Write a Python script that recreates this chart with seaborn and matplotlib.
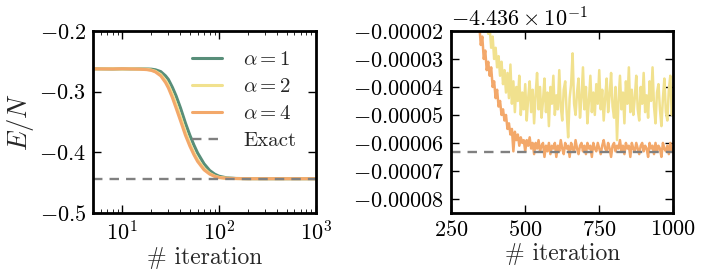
import numpy as np
import pandas as pd
import matplotlib
matplotlib.use("Agg")
import matplotlib.pyplot as plt
import matplotlib.ticker as mticker
import seaborn as sns

# datos: panel izquierdo (curvas suaves, eje log)
iters_left = [1, 3, 5, 8, 10, 12, 15, 18, 20, 22, 25, 28, 30, 33, 36, 40, 45, 50,
              55, 60, 70, 80, 90, 100, 120, 150, 200, 300, 500, 1000]
e_alpha1 = [-0.2624, -0.2626, -0.2623, -0.2627, -0.2624, -0.2626, -0.2625, -0.2627,
            -0.2630, -0.2640, -0.2670, -0.2740, -0.2800, -0.2930, -0.3070, -0.3270,
            -0.3520, -0.3720, -0.3880, -0.4010, -0.4190, -0.4300, -0.4360, -0.4395,
            -0.4422, -0.4432, -0.4435, -0.4436, -0.4436, -0.4436]
e_alpha2 = [-0.2625, -0.2623, -0.2626, -0.2624, -0.2627, -0.2625, -0.2628, -0.2632,
            -0.2645, -0.2665, -0.2720, -0.2820, -0.2900, -0.3050, -0.3210, -0.3420,
            -0.3670, -0.3860, -0.4010, -0.4120, -0.4270, -0.4350, -0.4392, -0.4414,
            -0.4428, -0.4434, -0.4436, -0.4436, -0.4436, -0.4436]
e_alpha4 = [-0.2626, -0.2624, -0.2625, -0.2627, -0.2623, -0.2626, -0.2630, -0.2638,
            -0.2650, -0.2675, -0.2740, -0.2850, -0.2940, -0.3100, -0.3270, -0.3480,
            -0.3720, -0.3900, -0.4040, -0.4150, -0.4290, -0.4360, -0.4398, -0.4418,
            -0.4430, -0.4434, -0.4436, -0.4436, -0.4436, -0.4436]

exact_energy = -0.4436633
offset = -0.4436

# panel derecho: desviaciones respecto a -0.4436, en unidades de 1e-5
right_start, right_step = 340, 5
dev_alpha2 = [
    -0.2, -0.4, -0.6, -0.9, -1.1, -1.4, -1.7, -2.1, -1.9, -2.6, -2.2, -3.0, -2.6, -3.3,
    -2.9, -3.6, -3.1, -3.9, -3.4, -4.2, -3.5, -4.4, -3.2, -4.6, -3.8, -4.9, -4.0, -4.5,
    -3.6, -5.0, -4.2, -4.8, -3.9, -5.2, -4.4, -3.8, -4.9, -4.1, -5.3, -4.3, -3.5, -4.8,
    -4.0, -5.1, -4.5, -3.7, -4.9, -4.2, -5.4, -4.0, -4.6, -3.6, -5.0, -4.3, -4.8, -3.4,
    -4.7, -5.2, -4.1, -3.8, -4.9, -5.8, -4.4, -3.9, -2.8, -4.6, -5.0, -4.2, -3.7, -5.1,
    -4.4, -3.3, -4.8, -4.0, -5.3, -4.5, -3.6, -4.9, -4.2, -5.0, -3.9, -4.6, -3.4, -4.8,
    -4.1, -5.2, -4.4, -3.7, -4.9, -4.3, -3.5, -4.7, -5.1, -4.0, -5.9, -4.5, -3.6, -4.8,
    -4.2, -5.3, -3.8, -4.6, -3.3, -4.9, -4.1, -5.0, -4.4, -3.6, -4.8, -5.2, -4.0, -4.6,
    -3.5, -4.9, -4.3, -5.1, -3.8, -4.5, -3.3, -4.7, -5.3, -4.2, -3.9, -4.8, -5.4, -4.4,
    -3.7, -4.9, -5.2, -4.1, -3.6, -5.0, -4.3]
dev_alpha4 = [
    -1.2, -1.8, -2.5, -2.2, -3.0, -2.7, -3.4, -3.1, -3.6, -3.3, -4.0, -3.8, -4.4, -4.1,
    -4.7, -4.5, -5.0, -4.8, -5.2, -5.0, -5.5, -5.3, -5.7, -5.5, -6.3, -5.6, -5.9, -5.7,
    -6.1, -5.8, -6.0, -5.9, -6.3, -5.9, -6.1, -5.8, -6.2, -6.0, -6.4, -6.0, -6.2, -5.9,
    -6.3, -6.1, -6.0, -6.5, -6.1, -6.3, -6.0, -6.4, -6.1, -6.2, -6.0, -6.5, -6.1, -6.3,
    -5.9, -6.2, -6.4, -6.0, -6.2, -6.1, -6.5, -6.0, -6.2, -6.3, -5.9, -6.2, -6.4, -6.1,
    -6.0, -6.3, -6.1, -6.4, -6.0, -6.2, -6.1, -6.5, -6.0, -6.2, -6.3, -6.0, -6.2, -6.4,
    -6.1, -5.9, -6.2, -6.3, -6.0, -6.2, -6.5, -6.1, -6.0, -6.3, -6.1, -6.2, -5.9, -6.3,
    -6.1, -6.4, -6.0, -6.2, -6.1, -6.5, -6.0, -6.2, -6.3, -6.0, -6.2, -6.4, -6.1, -6.0,
    -6.3, -6.1, -6.2, -6.5, -6.0, -6.2, -6.1, -6.4, -6.0, -6.3, -6.1, -6.2, -6.5, -6.0,
    -6.2, -6.3, -6.1, -6.4, -6.0, -6.3, -6.2]

labels = [r"$\alpha = 1$", r"$\alpha = 2$", r"$\alpha = 4$"]
colors = ["#588e79", "#f1e18e", "#f3a86a"]

# estilo
sns.set_style("ticks")
plt.rcParams.update({
    "font.family": "serif",
    "font.serif": ["cmr10"],
    "mathtext.fontset": "cm",
    "axes.formatter.use_mathtext": True,
    "axes.unicode_minus": True,
    "font.size": 16,
    "axes.labelsize": 16,
    "axes.linewidth": 2.0,
    "axes.edgecolor": "black",
    "xtick.direction": "in",
    "ytick.direction": "in",
    "xtick.top": True,
    "ytick.right": True,
    "xtick.major.size": 6,
    "ytick.major.size": 6,
    "xtick.minor.size": 3,
    "ytick.minor.size": 3,
    "xtick.major.width": 1.0,
    "ytick.major.width": 1.0,
    "xtick.major.pad": 5,
    "ytick.major.pad": 5,
    "xtick.color": "black",
    "ytick.color": "black",
})

fig = plt.figure(figsize=(7.05, 2.74), dpi=100)
ax1 = fig.add_axes([0.132, 0.223, 0.316, 0.664])
ax2 = fig.add_axes([0.640, 0.223, 0.315, 0.664])

# panel izquierdo
left_df = pd.DataFrame({"iteration": iters_left, "a1": e_alpha1, "a2": e_alpha2, "a4": e_alpha4})
for col, lab, c in zip(["a1", "a2", "a4"], labels, colors):
    sns.lineplot(data=left_df, x="iteration", y=col, ax=ax1, color=c, lw=2.2,
                 label=lab, estimator=None, sort=False)
ax1.axhline(exact_energy, color="#808080", ls=(0, (4, 3)), lw=1.7, label="Exact")
ax1.set_xscale("log")
ax1.set_xlim(5, 1000)
ax1.set_ylim(-0.5, -0.2)
ax1.yaxis.set_major_locator(mticker.MultipleLocator(0.1))
ax1.set_xlabel("# iteration", fontsize=17, labelpad=2)
ax1.set_ylabel(r"$E/N$", fontsize=19, labelpad=2)
ax1.legend(loc="upper right", frameon=False, handlelength=1.45, handletextpad=1.0,
           labelspacing=0.4, borderaxespad=0.55, fontsize=15)

# panel derecho
n2 = len(dev_alpha2)
n4 = len(dev_alpha4)
right_df2 = pd.DataFrame({"iteration": np.arange(right_start, right_start + right_step * n2, right_step),
                          "E": offset + np.array(dev_alpha2) * 1e-5})
right_df4 = pd.DataFrame({"iteration": np.arange(right_start, right_start + right_step * n4, right_step),
                          "E": offset + np.array(dev_alpha4) * 1e-5})
sns.lineplot(data=right_df2, x="iteration", y="E", ax=ax2, color=colors[1], lw=1.8,
             estimator=None, sort=False)
sns.lineplot(data=right_df4, x="iteration", y="E", ax=ax2, color=colors[2], lw=1.8,
             estimator=None, sort=False)
ax2.axhline(exact_energy, color="#808080", ls=(0, (4, 3)), lw=1.7)
ax2.set_xlim(250, 1000)
ax2.set_ylim(offset - 8.5e-5, offset - 2e-5)
ax2.xaxis.set_major_locator(mticker.MultipleLocator(250))
ax2.yaxis.set_major_locator(mticker.MultipleLocator(1e-5))
fmt = mticker.ScalarFormatter(useOffset=offset, useMathText=True)
fmt.set_powerlimits((-10, 10))
ax2.yaxis.set_major_formatter(fmt)
ax2.set_xlabel("# iteration", fontsize=17, labelpad=2)
ax2.set_ylabel("")

fig.savefig("out.png", dpi=100)
